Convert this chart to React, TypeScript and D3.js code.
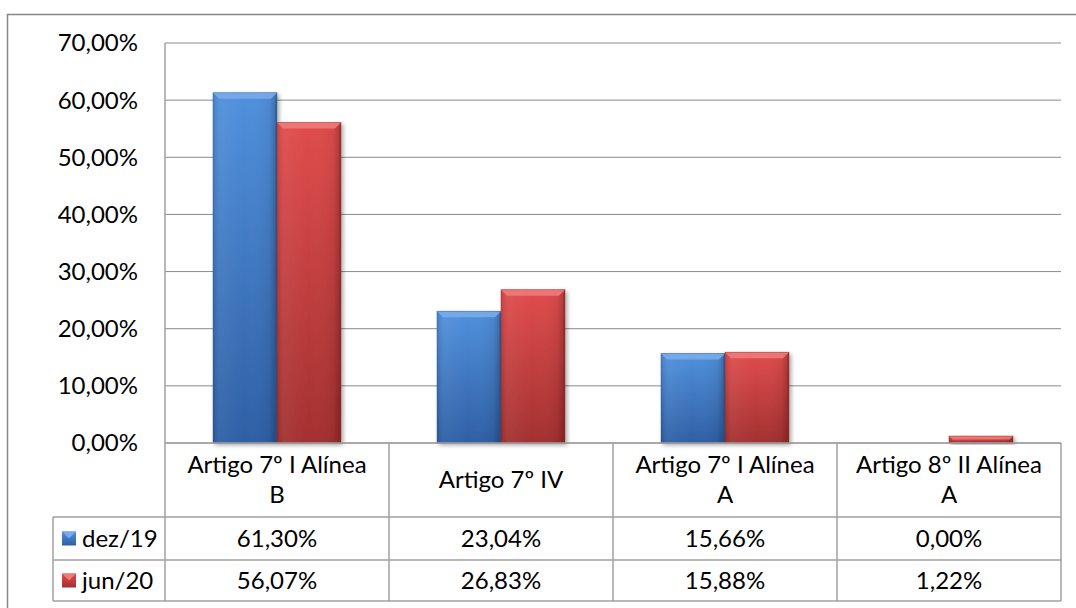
import React from "react";
import * as d3 from "d3";

const categories = ["Artigo 7º I Alínea B", "Artigo 7º IV", "Artigo 7º I Alínea A", "Artigo 8º II Alínea A"];
const categoryLines = [["Artigo 7º I Alínea", "B"], ["Artigo 7º IV"], ["Artigo 7º I Alínea", "A"], ["Artigo 8º II Alínea", "A"]];
const seriesNames = ["dez/19", "jun/20"];
const dez19 = [61.3, 23.04, 15.66, 0.0];
const jun20 = [56.07, 26.83, 15.88, 1.22];
const yTicks = [0, 10, 20, 30, 40, 50, 60, 70];

const W = 1076;
const H = 608;
const FONT = "Lato, 'Liberation Sans', sans-serif";
const FS = 24;

const fmt = (v: number) => d3.format(".2f")(v).replace(".", ",") + "%";

export default function App() {
  const plotL = 165, plotR = 1061, plotT = 43, plotB = 443;
  const row1B = 517, row2B = 560, row3B = 601;
  const legL = 53;
  const x = d3.scaleBand<string>().domain(categories).range([plotL, plotR]).padding(0);
  const xs = d3.scaleBand<string>().domain(seriesNames).range([0, x.bandwidth()]).paddingInner(0).paddingOuter(0.75);
  const y = d3.scaleLinear().domain([0, 70]).range([plotB, plotT]);
  const series = [dez19, jun20];
  const gridColor = "#8a8a8a";
  const colors = [
    { top: "#5090dc", body: "#3f7bcc", bot: "#2e5f a5".replace(" ", ""), light: "#78abea", dark: "#2a558f", id: "b" },
    { top: "#e04c4c", body: "#d03e3e", bot: "#a33030", light: "#ee7a7a", dark: "#8f2828", id: "r" },
  ];

  const bev = 6;
  return (
    <svg width={W} height={H} style={{ position: "absolute", left: 0, top: 0, display: "block" }} fontFamily={FONT}>
      <defs>
        {colors.map((c) => (
          <linearGradient key={c.id} id={"g" + c.id} x1="0" y1="0" x2="0" y2="1">
            <stop offset="0" stopColor={c.top} />
            <stop offset="1" stopColor={c.bot} />
          </linearGradient>
        ))}
        {colors.map((c) => (
          <linearGradient key={c.id + "h"} id={"h" + c.id} x1="0" y1="0" x2="1" y2="0">
            <stop offset="0" stopColor="#000" stopOpacity={0.12} />
            <stop offset="0.12" stopColor="#fff" stopOpacity={0.05} />
            <stop offset="0.5" stopColor="#fff" stopOpacity={0} />
            <stop offset="0.88" stopColor="#000" stopOpacity={0.05} />
            <stop offset="1" stopColor="#000" stopOpacity={0.25} />
          </linearGradient>
        ))}
        <filter id="sh" x="-20%" y="-20%" width="140%" height="140%">
          <feGaussianBlur in="SourceAlpha" stdDeviation="2" />
          <feOffset dx="1.5" dy="1.5" result="b" />
          <feComponentTransfer><feFuncA type="linear" slope="0.35" /></feComponentTransfer>
          <feMerge><feMergeNode /><feMergeNode in="SourceGraphic" /></feMerge>
        </filter>
      </defs>
      <rect x={0} y={0} width={W} height={H} fill="#fff" />
      <path d={`M7.5,${H} V14.5 H${W}`} fill="none" stroke="#878787" strokeWidth={1.5} />

      {yTicks.map((t) => (
        <line key={t} x1={plotL} x2={plotR} y1={y(t)} y2={y(t)} stroke={gridColor} strokeWidth={1} />
      ))}
      {yTicks.map((t) => (
        <text key={"t" + t} x={138} y={y(t)} dy="0.35em" textAnchor="end" fontSize={FS} fill="#000">{fmt(t)}</text>
      ))}

      {categories.map((cat, ci) =>
        seriesNames.map((s, si) => {
          const v = series[si][ci];
          if (v <= 0) return null;
          const bx = (x(cat) as number) + (xs(s) as number);
          const bw = xs.bandwidth();
          const by = y(v);
          const bh = plotB - by;
          const c = colors[si];
          const b = Math.min(bev, bh / 2);
          return (
            <g key={cat + s} filter="url(#sh)">
              <rect x={bx} y={by} width={bw} height={bh} fill={`url(#g${c.id})`} />
              <rect x={bx} y={by} width={bw} height={bh} fill={`url(#h${c.id})`} />
              <path d={`M${bx},${by} H${bx + bw} L${bx + bw - b},${by + b} H${bx + b} Z`} fill={c.light} opacity={0.9} />
              <path d={`M${bx + bw},${by} V${by + bh} H${bx + bw - 2} V${by + b} Z`} fill={c.dark} opacity={0.5} />
              <rect x={bx} y={by} width={bw} height={bh} fill="none" stroke={c.dark} strokeOpacity={0.5} strokeWidth={0.8} />
            </g>
          );
        })
      )}

      <g stroke="#a0a0a0" strokeWidth={1.5} fill="none">
        <line x1={plotL} x2={plotL} y1={plotT} y2={row3B} />
        <line x1={plotL} x2={plotR} y1={plotB} y2={plotB} />
        <line x1={legL} x2={plotR} y1={row1B} y2={row1B} />
        <line x1={legL} x2={plotR} y1={row2B} y2={row2B} />
        <line x1={legL} x2={plotR} y1={row3B} y2={row3B} />
        <line x1={legL} x2={legL} y1={row1B} y2={row3B} />
        {categories.map((cat) => (
          <line key={cat} x1={(x(cat) as number) + x.bandwidth()} x2={(x(cat) as number) + x.bandwidth()} y1={plotB} y2={row3B} />
        ))}
      </g>
      {categories.map((cat, ci) => {
        const cx = (x(cat) as number) + x.bandwidth() / 2;
        const lines = categoryLines[ci];
        const mid = (plotB + row1B) / 2;
        const lh = 30;
        return (
          <text key={cat} x={cx} textAnchor="middle" fontSize={FS} fill="#000">
            {lines.map((l, li) => (
              <tspan key={li} x={cx} y={mid + (li - (lines.length - 1) / 2) * lh} dy="0.35em">{l}</tspan>
            ))}
          </text>
        );
      })}
      {seriesNames.map((s, si) => {
        const top = si === 0 ? row1B : row2B;
        const bot = si === 0 ? row2B : row3B;
        const mid = (top + bot) / 2;
        const c = colors[si];
        return (
          <g key={s}>
            <rect x={62} y={mid - 7} width={14} height={14} fill={`url(#g${c.id})`} />
            <path d={`M62,${mid - 7} H76 L69,${mid} Z`} fill={c.light} />
            <text x={82} y={mid} dy="0.35em" fontSize={FS} fill="#000">{s}</text>
            {categories.map((cat, ci) => (
              <text key={cat} x={(x(cat) as number) + x.bandwidth() / 2} y={mid} dy="0.35em" textAnchor="middle" fontSize={FS} fill="#000">
                {fmt(series[si][ci])}
              </text>
            ))}
          </g>
        );
      })}
    </svg>
  );
}
